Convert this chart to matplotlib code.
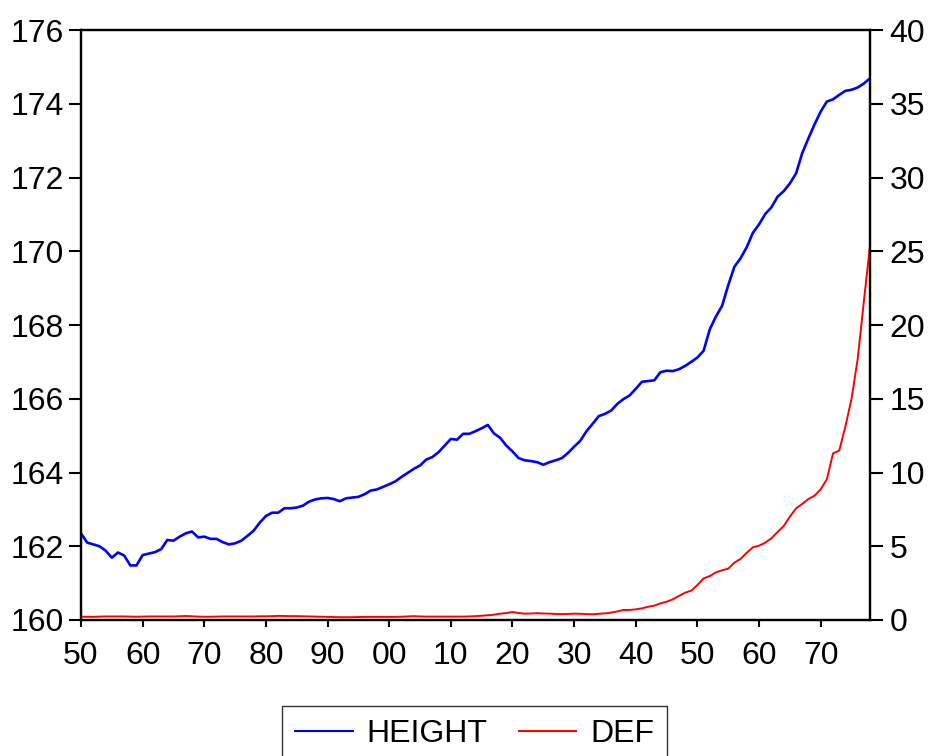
import matplotlib
matplotlib.use('Agg')
import matplotlib.pyplot as plt

plt.rcParams['font.family'] = ['Liberation Sans', 'DejaVu Sans']

# average height (left axis) and DEF (right axis), one value per year from 1850
height = [162.35, 162.10, 162.05, 162.00, 161.88, 161.69, 161.83, 161.75, 161.48, 161.48,
          161.76, 161.80, 161.84, 161.92, 162.17, 162.15, 162.26, 162.35, 162.40, 162.24,
          162.26, 162.20, 162.20, 162.11, 162.05, 162.08, 162.15, 162.28, 162.42, 162.64,
          162.82, 162.91, 162.91, 163.03, 163.03, 163.05, 163.10, 163.21, 163.27, 163.30,
          163.31, 163.28, 163.22, 163.30, 163.32, 163.34, 163.41, 163.51, 163.54, 163.61,
          163.68, 163.76, 163.88, 163.99, 164.10, 164.19, 164.35, 164.42, 164.55, 164.73,
          164.91, 164.89, 165.05, 165.05, 165.12, 165.20, 165.29, 165.06, 164.94, 164.73,
          164.57, 164.39, 164.33, 164.31, 164.28, 164.21, 164.28, 164.33, 164.39, 164.53,
          164.70, 164.86, 165.12, 165.32, 165.53, 165.59, 165.68, 165.86, 165.99, 166.09,
          166.27, 166.46, 166.48, 166.50, 166.72, 166.76, 166.75, 166.80, 166.89, 167.00,
          167.12, 167.30, 167.88, 168.23, 168.52, 169.08, 169.58, 169.81, 170.11, 170.50,
          170.73, 171.01, 171.19, 171.48, 171.63, 171.84, 172.11, 172.66, 173.06, 173.44,
          173.79, 174.06, 174.12, 174.24, 174.35, 174.38, 174.44, 174.55, 174.69]

deficit = [0.22, 0.22, 0.21, 0.23, 0.24, 0.24, 0.24, 0.24, 0.23, 0.22,
           0.23, 0.24, 0.24, 0.24, 0.24, 0.24, 0.25, 0.27, 0.25, 0.23,
           0.22, 0.22, 0.23, 0.24, 0.24, 0.24, 0.24, 0.24, 0.24, 0.25,
           0.25, 0.26, 0.28, 0.27, 0.26, 0.26, 0.25, 0.24, 0.23, 0.22,
           0.21, 0.20, 0.19, 0.19, 0.19, 0.20, 0.21, 0.21, 0.21, 0.21,
           0.21, 0.21, 0.22, 0.24, 0.26, 0.24, 0.23, 0.23, 0.23, 0.23,
           0.23, 0.23, 0.23, 0.24, 0.26, 0.29, 0.32, 0.36, 0.43, 0.47,
           0.54, 0.47, 0.43, 0.44, 0.46, 0.44, 0.43, 0.41, 0.40, 0.41,
           0.43, 0.42, 0.40, 0.39, 0.42, 0.45, 0.50, 0.58, 0.68, 0.68,
           0.72, 0.79, 0.90, 0.97, 1.13, 1.24, 1.40, 1.63, 1.85, 1.99,
           2.37, 2.82, 2.98, 3.23, 3.37, 3.48, 3.89, 4.14, 4.56, 4.93,
           5.04, 5.24, 5.54, 5.97, 6.37, 7.01, 7.57, 7.87, 8.20, 8.43,
           8.86, 9.54, 11.30, 11.48, 13.11, 15.00, 17.70, 21.60, 25.40]

years = list(range(1850, 1850 + len(height)))
xtick_years = list(range(1850, 1971, 10))
xtick_labels = ['%02d' % (y % 100) for y in xtick_years]

fig = plt.figure(figsize=(9.33, 7.56), dpi=100)
ax = fig.add_axes([0.0868, 0.1799, 0.8457, 0.7804])
ax2 = ax.twinx()

l1, = ax.plot(years, height, color='#0000ff', lw=1.9, label='HEIGHT')
l2, = ax2.plot(years, deficit, color='#ff0000', lw=1.4, label='DEF')

ax.set_xlim(1850, 1978)
ax.set_ylim(160, 176)
ax.set_yticks(range(160, 177, 2))
ax2.set_ylim(0, 40)
ax2.set_yticks(range(0, 41, 5))
ax.set_xticks(xtick_years)
ax.set_xticklabels(xtick_labels)

for a in (ax, ax2):
    for s in a.spines.values():
        s.set_linewidth(1.6)
ax.tick_params(axis='y', labelsize=23, length=8.5, width=1.5, pad=4)
ax.tick_params(axis='x', labelsize=23, length=5, width=1.5, pad=10)
ax2.tick_params(axis='y', labelsize=23, length=9, width=1.5, pad=5)

leg = fig.legend([l1, l2], ['HEIGHT', 'DEF'], loc='upper center',
                 bbox_to_anchor=(0.5086, 0.0661), ncol=2, fontsize=23,
                 frameon=True, fancybox=False, edgecolor='black',
                 handlelength=1.8, handletextpad=0.42, columnspacing=1.0,
                 borderpad=0.4, borderaxespad=0)
leg.get_frame().set_linewidth(1.0)
leg.get_lines()[0].set_linewidth(1.5)
leg.get_lines()[1].set_linewidth(1.5)

fig.savefig('out.png', dpi=100)
